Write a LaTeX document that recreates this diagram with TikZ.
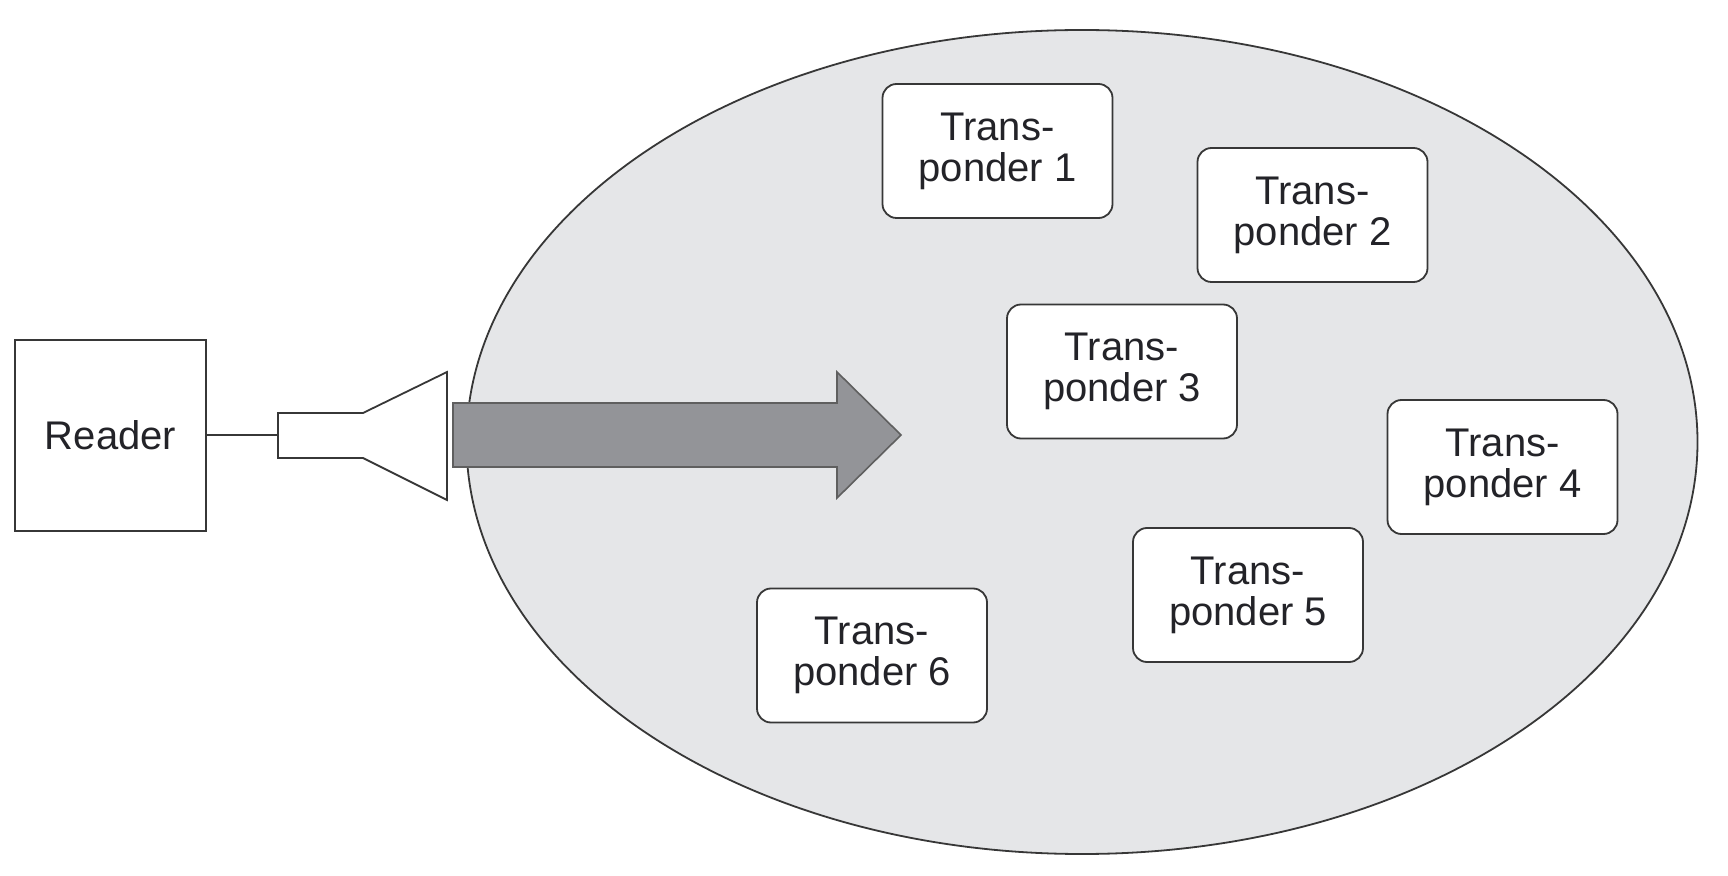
\documentclass[tikz,border=0pt]{standalone}
\usepackage{fontspec}
\setmainfont{Liberation Sans}
\usetikzlibrary{shapes.geometric}
\definecolor{ellfill}{RGB}{229,230,232}
\definecolor{arrfill}{RGB}{147,148,152}
\definecolor{linec}{RGB}{55,55,55}
\definecolor{textc}{RGB}{35,35,40}
\begin{document}
\begin{tikzpicture}[x=0.5pt,y=-0.5pt,
  tp/.style={draw=linec,line width=0.9pt,fill=white,rounded corners=7pt,
    minimum width=115pt,minimum height=67pt,align=center,inner sep=0pt,
    text=textc,font=\fontsize{20}{20.5}\selectfont},
  readerbox/.style={draw=linec,line width=0.9pt,fill=white,minimum width=95.5pt,
    minimum height=95.5pt,inner sep=0pt,text=textc,font=\fontsize{20}{20.5}\selectfont}]
\useasboundingbox (0,0) rectangle (1728,876);
% coverage area
\node[draw=linec,line width=0.9pt,fill=ellfill,ellipse,minimum width=615.5pt,minimum height=412pt,inner sep=0pt] (area) at (1082,442) {};
% reader
\node[readerbox] (reader) at (110.5,435.5) {Reader};
% antenna
\coordinate (ant) at (278,435.5);
\draw[draw=linec,line width=0.9pt,fill=white]
  (278,413) -- (363,413) -- (447,372) -- (447,500) -- (363,458) -- (278,458) -- cycle;
\draw[draw=linec,line width=1pt] (reader.east) -- (ant);
% big arrow
\draw[draw=linec!80,line width=0.8pt,fill=arrfill]
  (453,403) -- (837,403) -- (837,372) -- (901,435) -- (837,498) -- (837,467) -- (453,467) -- cycle;
% transponders
\node[tp] (t1) at (997.5,151) {Trans-\\ponder 1};
\node[tp] (t2) at (1312.5,215) {Trans-\\ponder 2};
\node[tp] (t3) at (1122,371.5) {Trans-\\ponder 3};
\node[tp] (t4) at (1502.5,467) {Trans-\\ponder 4};
\node[tp] (t5) at (1248,595) {Trans-\\ponder 5};
\node[tp] (t6) at (872,655.5) {Trans-\\ponder 6};
\end{tikzpicture}
\end{document}
